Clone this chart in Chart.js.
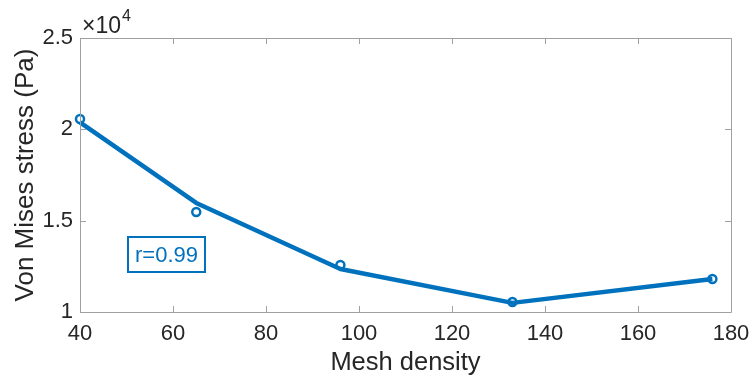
<!DOCTYPE html>
<html>
<head>
<meta charset="utf-8">
<script src="https://cdn.jsdelivr.net/npm/chart.js@4"></script>
<style>
html,body{margin:0;padding:0;background:#fff;}
#wrap{width:753px;height:383px;position:relative;}
</style>
</head>
<body>
<div id="wrap"><canvas id="c" width="753" height="383"></canvas></div>
<script>
// Data
const meshDensity = [40, 65, 96, 133, 176];
const stressFit = [20380, 15970, 12350, 10500, 11810];
const stressMeasured = [20570, 15470, 12570, 10550, 11810];
const xTicks = [40, 60, 80, 100, 120, 140, 160, 180];
const yTicks = [10000, 15000, 20000, 25000];
const annotationText = 'r=0.99';
const exponentText = '4';

const BLUE = '#0072BD';
const AXIS = '#a0a0a0';
const TXT = '#262626';
const FONT = "'Liberation Sans', Arial, Helvetica, sans-serif";

const decor = {
  id: 'decor',
  afterDraw(chart) {
    const {ctx, chartArea: a, scales: {x, y}} = chart;
    ctx.save();
    ctx.strokeStyle = AXIS;
    ctx.lineWidth = 1;
    ctx.beginPath();
    ctx.rect(Math.round(a.left) + 0.5, Math.round(a.top) + 0.5, Math.round(a.right - a.left), Math.round(a.bottom - a.top));
    ctx.stroke();
    const tl = 6;
    ctx.beginPath();
    xTicks.forEach(v => {
      const px = Math.round(x.getPixelForValue(v)) + 0.5;
      ctx.moveTo(px, a.bottom); ctx.lineTo(px, a.bottom - tl);
      ctx.moveTo(px, a.top); ctx.lineTo(px, a.top + tl);
    });
    yTicks.forEach(v => {
      const py = Math.round(y.getPixelForValue(v)) + 0.5;
      ctx.moveTo(a.left, py); ctx.lineTo(a.left + tl, py);
      ctx.moveTo(a.right, py); ctx.lineTo(a.right - tl, py);
    });
    ctx.stroke();
    // exponent label
    ctx.fillStyle = TXT;
    ctx.textBaseline = 'alphabetic';
    ctx.textAlign = 'left';
    ctx.font = '23px ' + FONT;
    ctx.fillText('\u00d710', a.left + 2, a.top - 5);
    const w = ctx.measureText('\u00d710').width;
    ctx.font = '16px ' + FONT;
    ctx.fillText(exponentText, a.left + 2 + w + 1, a.top - 17);
    // annotation box
    const bx = a.left + 48, by = a.top + 199, bw = 77, bh = 35;
    ctx.strokeStyle = BLUE;
    ctx.lineWidth = 2;
    ctx.strokeRect(bx, by, bw, bh);
    ctx.fillStyle = BLUE;
    ctx.font = '22px ' + FONT;
    ctx.textAlign = 'center';
    ctx.textBaseline = 'middle';
    ctx.fillText(annotationText, bx + bw / 2, by + bh / 2 + 1);
    ctx.restore();
  }
};

new Chart(document.getElementById('c'), {
  type: 'scatter',
  data: {
    datasets: [
      {
        label: 'fit',
        data: meshDensity.map((m, i) => ({x: m, y: stressFit[i]})),
        showLine: true,
        borderColor: BLUE,
        borderWidth: 4.5,
        pointRadius: 0,
        tension: 0,
        clip: false,
        borderJoinStyle: 'round',
        borderCapStyle: 'butt'
      },
      {
        label: 'measured',
        data: meshDensity.map((m, i) => ({x: m, y: stressMeasured[i]})),
        showLine: false,
        pointRadius: 4,
        pointBorderWidth: 2.5,
        pointBorderColor: BLUE,
        pointBackgroundColor: 'rgba(255,255,255,0)',
        clip: false
      }
    ]
  },
  options: {
    responsive: false,
    animation: false,
    devicePixelRatio: 1,
    layout: {padding: {top: 38, right: 22, left: 0, bottom: 0}},
    plugins: {legend: {display: false}, tooltip: {enabled: false}},
    scales: {
      x: {
        type: 'linear',
        min: 40, max: 180,
        afterBuildTicks: s => { s.ticks = xTicks.map(v => ({value: v})); },
        afterFit: s => { s.height = 71; s.paddingLeft = 0; s.paddingRight = 0; },
        grid: {display: false, drawTicks: false},
        border: {display: false},
        ticks: {color: TXT, font: {family: FONT, size: 22}, padding: 9, maxRotation: 0, autoSkip: false},
        title: {display: true, text: 'Mesh density', color: TXT, font: {family: FONT, size: 25.5, lineHeight: 1.2}, padding: {top: 0, bottom: 5}}
      },
      y: {
        type: 'linear',
        min: 10000, max: 25000,
        afterBuildTicks: s => { s.ticks = yTicks.map(v => ({value: v})); },
        afterFit: s => { s.width = 80; s.paddingTop = 0; s.paddingBottom = 0; },
        grid: {display: false, drawTicks: false},
        border: {display: false},
        ticks: {color: TXT, font: {family: FONT, size: 22}, padding: 7, autoSkip: false,
          callback: v => String(v / 10000)},
        title: {display: true, text: 'Von Mises stress (Pa)', color: TXT, font: {family: FONT, size: 26, lineHeight: 1.2}, padding: {top: 10, bottom: 0}}
      }
    }
  },
  plugins: [decor]
});
</script>
</body>
</html>
